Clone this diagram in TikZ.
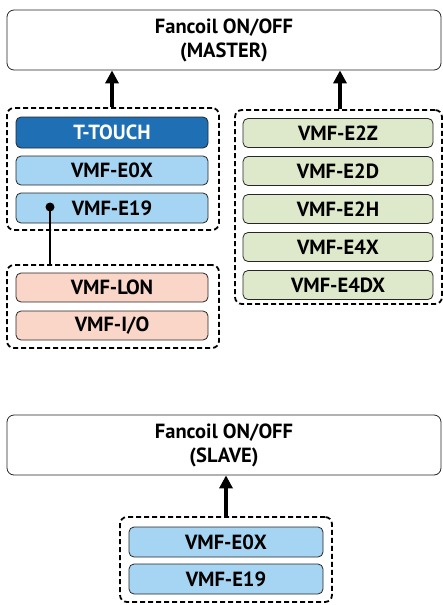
\documentclass[tikz,border=0pt]{standalone}
\usepackage{fontspec}
\setmainfont{PT Sans}
\usetikzlibrary{arrows.meta}
\definecolor{dblue}{HTML}{1F6FB5}
\definecolor{lblue}{HTML}{A6D5F3}
\definecolor{lpink}{HTML}{FAD6C8}
\definecolor{lgreen}{HTML}{DDE9CA}
\begin{document}
\begin{tikzpicture}[x=1pt,y=-1pt,
  item/.style={draw=black!85, line width=0.8pt, rounded corners=5pt, minimum width=192pt, minimum height=29pt, inner sep=0pt, font=\fontsize{20.5}{20.5}\selectfont\bfseries},
  group/.style={draw, line width=1.8pt, rounded corners=7pt, dash pattern=on 5pt off 3pt, inner sep=0pt},
  mainbox/.style={draw=black!85, line width=0.8pt, rounded corners=7pt, minimum width=434pt, minimum height=60pt, align=center, inner sep=0pt, font=\fontsize{20.5}{24}\selectfont\bfseries},
  arr/.style={line width=3.2pt, -{Triangle[width=13pt,length=13pt]}}
]
\useasboundingbox (0,0) rectangle (443,605);
% master
\node[mainbox] (master) at (224,40) {Fancoil ON/OFF\\(MASTER)};
% left group
\node[group, minimum width=212pt, minimum height=122pt] (lg) at (113,169) {};
\node[item, fill=dblue, text=white, minimum height=31pt] (tt) at (112,132.5) {T-TOUCH};
\node[item, fill=lblue] (e0x) at (112,170.5) {VMF-E0X};
\node[item, fill=lblue, minimum height=30pt] (e19) at (112,208) {VMF-E19};
% lower left group
\node[group, minimum width=212pt, minimum height=83pt] (lo) at (113,306.5) {};
\node[item, fill=lpink] (lon) at (112,287.5) {VMF-LON};
\node[item, fill=lpink] (io) at (112,325.5) {VMF-I/O};
% right group
\node[group, minimum width=207pt, minimum height=194pt] (rg) at (338.5,207) {};
\node[item, fill=lgreen, minimum width=190pt] (e2z) at (338,133) {VMF-E2Z};
\node[item, fill=lgreen, minimum width=190pt] (e2d) at (338,171) {VMF-E2D};
\node[item, fill=lgreen, minimum width=190pt] (e2h) at (338,209) {VMF-E2H};
\node[item, fill=lgreen, minimum width=190pt] (e4x) at (338,247) {VMF-E4X};
\node[item, fill=lgreen, minimum width=190pt] (e4dx) at (338,285) {VMF-E4DX};
% slave
\node[mainbox] (slave) at (224,445) {Fancoil ON/OFF\\(SLAVE)};
\node[group, minimum width=212pt, minimum height=85pt] (sg) at (226,559.5) {};
\node[item, fill=lblue, minimum width=194pt, minimum height=30pt] (se0x) at (226,542) {VMF-E0X};
\node[item, fill=lblue, minimum width=194pt, minimum height=30pt] (se19) at (226,579) {VMF-E19};
% connectors
\draw[arr] (lg.north -| 112,0) -- (master.south -| 112,0);
\draw[arr] (rg.north -| 340,0) -- (master.south -| 340,0);
\draw[arr] (sg.north) -- (slave.south -| sg.north);
\node[circle, fill=black, inner sep=0pt, minimum size=9pt] (dot) at (50,207) {};
\draw[line width=2.5pt] (dot.center) -- (lo.north -| dot.center);
\end{tikzpicture}
\end{document}
